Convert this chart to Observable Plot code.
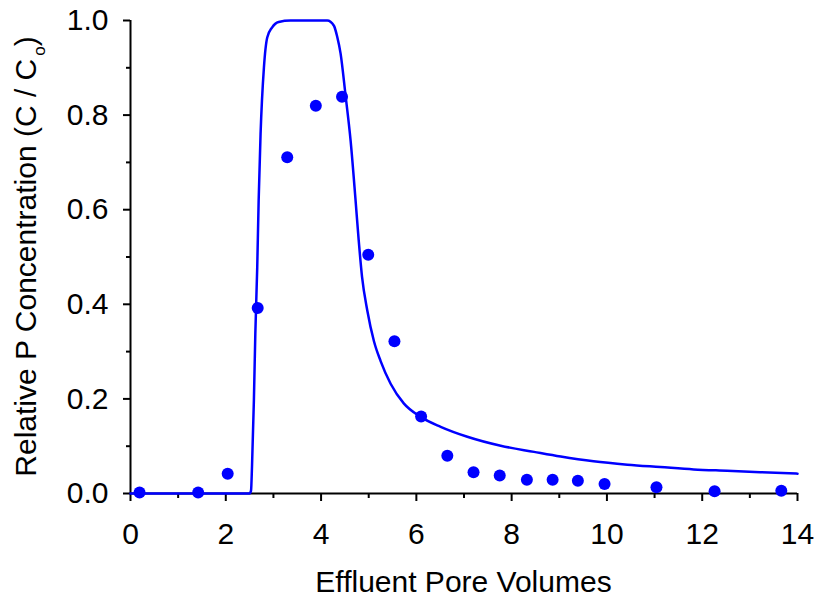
<!DOCTYPE html>
<html><head><meta charset="utf-8">
<script src="https://cdn.jsdelivr.net/npm/d3@7"></script>
<script src="https://cdn.jsdelivr.net/npm/@observablehq/plot@0.6"></script>
<style>body{margin:0;background:#fff}</style>
</head><body><div id="chart"></div>
<script>
// Observed data (dots)
const obsX = [0.19, 1.42, 2.04, 2.67, 3.29, 3.89, 4.44, 4.99, 5.54, 6.10, 6.65, 7.20, 7.75, 8.32, 8.86, 9.39, 9.95, 11.04, 12.26, 13.66];
const obsY = [0.002, 0.002, 0.042, 0.392, 0.711, 0.820, 0.839, 0.505, 0.322, 0.163, 0.080, 0.045, 0.038, 0.029, 0.029, 0.027, 0.020, 0.013, 0.005, 0.006];
// Model curve
const fitX = [0, 2.50, 2.53, 2.55, 2.59, 2.62, 2.66, 2.69, 2.73, 2.80, 2.87, 2.97, 3.11, 3.36, 4.13, 4.27, 4.34, 4.41, 4.51, 4.62, 4.72, 4.79, 4.86, 4.97, 5.11, 5.25, 5.46, 5.74, 6.09, 6.51, 7.07, 7.77, 8.47, 9.03, 9.72, 10.43, 11.12, 11.82, 12.52, 13.22, 14.0];
const fitY = [0, 0, 0.006, 0.056, 0.197, 0.338, 0.478, 0.62, 0.76, 0.90, 0.964, 0.985, 0.997, 1.0, 1.0, 0.989, 0.965, 0.93, 0.845, 0.746, 0.625, 0.535, 0.458, 0.387, 0.322, 0.280, 0.232, 0.190, 0.162, 0.141, 0.120, 0.101, 0.088, 0.078, 0.068, 0.061, 0.056, 0.051, 0.048, 0.045, 0.042];
// Ticks
const xMajor = [0, 2, 4, 6, 8, 10, 12, 14];
const xMinor = [1, 3, 5, 7, 9, 11, 13];
const yMajor = [0, 0.2, 0.4, 0.6, 0.8, 1.0];
const yMinor = [0.1, 0.3, 0.5, 0.7, 0.9];
const xTitle = "Effluent Pore Volumes";
const yTitle = "Relative P Concentration (C / C";
const ySub = "o";

const obs = obsX.map((x, i) => ({x, y: obsY[i]}));
const fit = fitX.map((x, i) => ({x, y: fitY[i]}));
const FONT = "'Liberation Sans', Arial, sans-serif";

const chart = Plot.plot({
  width: 814, height: 597,
  marginLeft: 130, marginRight: 17, marginTop: 20, marginBottom: 104,
  style: {fontFamily: FONT, fontSize: "30px", color: "#000", background: "#fff"},
  x: {domain: [0, 14]},
  y: {domain: [0, 1]},
  marks: [
    Plot.axisX({ticks: xMajor, tickSize: 8, tickPadding: 21, tickFormat: d => String(d), label: null, strokeWidth: 2, fontSize: 30}),
    Plot.axisX({ticks: xMinor, tickSize: 5, tickFormat: () => "", label: null, strokeWidth: 2}),
    Plot.axisY({ticks: yMajor, tickSize: 7, tickPadding: 15, tickFormat: d3.format(".1f"), label: null, strokeWidth: 2, fontSize: 30}),
    Plot.axisY({ticks: yMinor, tickSize: 4, tickFormat: () => "", label: null, strokeWidth: 2}),
    Plot.ruleX([0], {strokeWidth: 2}),
    Plot.ruleY([0], {strokeWidth: 2}),
    Plot.line(fit, {x: "x", y: "y", stroke: "#0000ff", strokeWidth: 2.5, curve: "monotone-x"}),
    Plot.dot(obs, {x: "x", y: "y", r: 6, fill: "#0000ff", stroke: "none"})
  ]
});

const svg = d3.select(chart);
svg.append("text")
  .attr("x", 463.5).attr("y", 592)
  .attr("text-anchor", "middle")
  .attr("font-family", FONT).attr("font-size", 30).attr("fill", "#000")
  .text(xTitle);
const yl = svg.append("text")
  .attr("transform", "translate(36,256.5) rotate(-90)")
  .attr("text-anchor", "middle")
  .attr("font-family", FONT).attr("font-size", 30).attr("fill", "#000");
yl.append("tspan").text(yTitle);
yl.append("tspan").attr("font-size", 17).attr("dx", 3).attr("dy", 9).text(ySub);
yl.append("tspan").attr("dy", -9).text(")");

document.getElementById("chart").appendChild(chart);
</script>
</body></html>
